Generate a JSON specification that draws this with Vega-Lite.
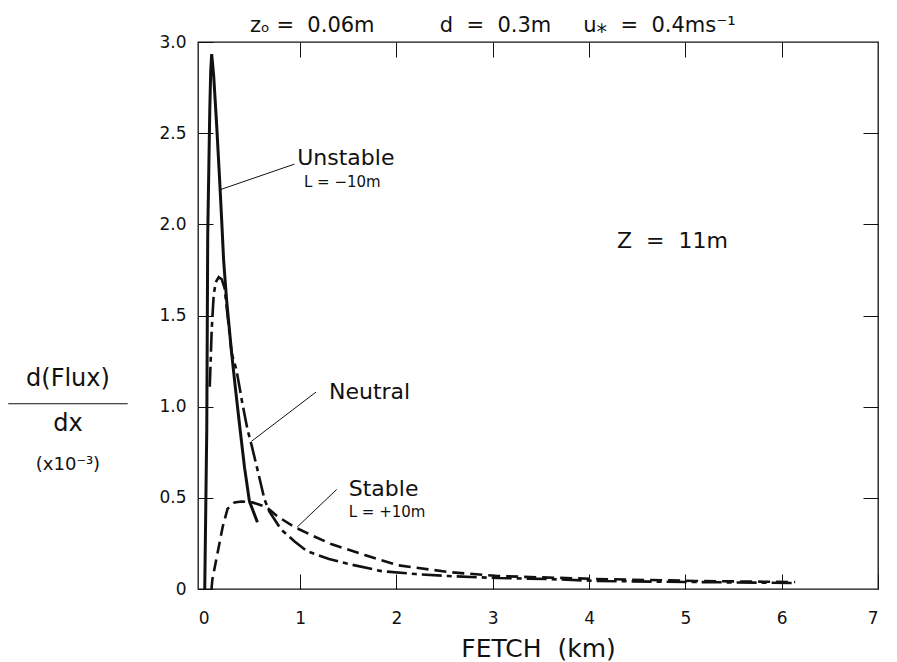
{
  "$schema": "https://vega.github.io/schema/vega-lite/v6.json",
  "width": 680,
  "height": 547,
  "autosize": {"type": "none"},
  "padding": {"left": 198, "top": 42, "right": 19, "bottom": 73},
  "background": "white",
  "config": {
    "view": {"stroke": "#111", "strokeWidth": 1.3},
    "font": "DejaVu Sans",
    "axis": {
      "domain": false,
      "grid": false,
      "tickColor": "#111",
      "tickWidth": 1,
      "labelColor": "#111",
      "labelFont": "DejaVu Sans",
      "labelFontSize": 17,
      "titleFont": "DejaVu Sans",
      "titleColor": "#111",
      "titleFontWeight": "normal"
    }
  },
  "datasets": {
    "curves": [
      {"s": "Unstable", "x": 0.01, "y": 0},
      {"s": "Unstable", "x": 0.031, "y": 0.874},
      {"s": "Unstable", "x": 0.041, "y": 1.94},
      {"s": "Unstable", "x": 0.062, "y": 2.62},
      {"s": "Unstable", "x": 0.072, "y": 2.84},
      {"s": "Unstable", "x": 0.082, "y": 2.934},
      {"s": "Unstable", "x": 0.103, "y": 2.814},
      {"s": "Unstable", "x": 0.134, "y": 2.541},
      {"s": "Unstable", "x": 0.165, "y": 2.24},
      {"s": "Unstable", "x": 0.186, "y": 2.022},
      {"s": "Unstable", "x": 0.206, "y": 1.803},
      {"s": "Unstable", "x": 0.237, "y": 1.585},
      {"s": "Unstable", "x": 0.289, "y": 1.295},
      {"s": "Unstable", "x": 0.33, "y": 1.093},
      {"s": "Unstable", "x": 0.371, "y": 0.902},
      {"s": "Unstable", "x": 0.423, "y": 0.667},
      {"s": "Unstable", "x": 0.474, "y": 0.481},
      {"s": "Unstable", "x": 0.557, "y": 0.366},
      {"s": "Neutral", "x": 0.062, "y": 1.109},
      {"s": "Neutral", "x": 0.072, "y": 1.257},
      {"s": "Neutral", "x": 0.082, "y": 1.421},
      {"s": "Neutral", "x": 0.103, "y": 1.612},
      {"s": "Neutral", "x": 0.124, "y": 1.683},
      {"s": "Neutral", "x": 0.155, "y": 1.71},
      {"s": "Neutral", "x": 0.186, "y": 1.699},
      {"s": "Neutral", "x": 0.216, "y": 1.65},
      {"s": "Neutral", "x": 0.247, "y": 1.5},
      {"s": "Neutral", "x": 0.289, "y": 1.295},
      {"s": "Neutral", "x": 0.34, "y": 1.2},
      {"s": "Neutral", "x": 0.4, "y": 1.02},
      {"s": "Neutral", "x": 0.454, "y": 0.874},
      {"s": "Neutral", "x": 0.495, "y": 0.792},
      {"s": "Neutral", "x": 0.557, "y": 0.656},
      {"s": "Neutral", "x": 0.63, "y": 0.492},
      {"s": "Neutral", "x": 0.68, "y": 0.426},
      {"s": "Neutral", "x": 0.8, "y": 0.328},
      {"s": "Neutral", "x": 0.94, "y": 0.262},
      {"s": "Neutral", "x": 1.07, "y": 0.208},
      {"s": "Neutral", "x": 1.3, "y": 0.164},
      {"s": "Neutral", "x": 1.505, "y": 0.137},
      {"s": "Neutral", "x": 1.845, "y": 0.098},
      {"s": "Neutral", "x": 2.2, "y": 0.082},
      {"s": "Neutral", "x": 2.54, "y": 0.071},
      {"s": "Neutral", "x": 3.05, "y": 0.06},
      {"s": "Neutral", "x": 3.57, "y": 0.055},
      {"s": "Neutral", "x": 4.08, "y": 0.044},
      {"s": "Neutral", "x": 5.11, "y": 0.038},
      {"s": "Neutral", "x": 6.14, "y": 0.033},
      {"s": "Stable", "x": 0.08, "y": 0},
      {"s": "Stable", "x": 0.09, "y": 0.055},
      {"s": "Stable", "x": 0.144, "y": 0.2},
      {"s": "Stable", "x": 0.196, "y": 0.34},
      {"s": "Stable", "x": 0.247, "y": 0.44},
      {"s": "Stable", "x": 0.32, "y": 0.475},
      {"s": "Stable", "x": 0.39, "y": 0.48},
      {"s": "Stable", "x": 0.505, "y": 0.475},
      {"s": "Stable", "x": 0.65, "y": 0.45},
      {"s": "Stable", "x": 0.76, "y": 0.4},
      {"s": "Stable", "x": 0.94, "y": 0.34},
      {"s": "Stable", "x": 1.14, "y": 0.29},
      {"s": "Stable", "x": 1.33, "y": 0.245},
      {"s": "Stable", "x": 1.68, "y": 0.185},
      {"s": "Stable", "x": 2.02, "y": 0.13},
      {"s": "Stable", "x": 2.54, "y": 0.093},
      {"s": "Stable", "x": 3.05, "y": 0.071},
      {"s": "Stable", "x": 4.08, "y": 0.055},
      {"s": "Stable", "x": 5.11, "y": 0.044},
      {"s": "Stable", "x": 6.14, "y": 0.038}
    ],
    "bigLabels": [
      {"x": 0.97, "y": 2.366, "t": "Unstable"},
      {"x": 1.3, "y": 1.082, "t": "Neutral"},
      {"x": 1.505, "y": 0.546, "t": "Stable"},
      {"x": 4.29, "y": 1.91, "t": "Z\u00a0\u00a0=\u00a0\u00a011m"}
    ],
    "smallLabels": [
      {"x": 1.04, "y": 2.23, "t": "L\u00a0=\u00a0−10m"},
      {"x": 1.505, "y": 0.42, "t": "L\u00a0=\u00a0+10m"}
    ],
    "topText": [
      {"x": 0.48, "y": 3.09, "t": "z\u2092\u00a0=\u00a0\u00a00.06m"},
      {"x": 2.45, "y": 3.09, "t": "d\u00a0\u00a0=\u00a0\u00a00.3m"},
      {"x": 3.94, "y": 3.09, "t": "u\u204e\u00a0\u00a0=\u00a0\u00a00.4ms\u207b\u00b9"}
    ],
    "yTitle": [
      {"x": -1.41, "y": 1.15, "t": "d(Flux)"},
      {"x": -1.41, "y": 0.907, "t": "dx"}
    ],
    "yTitleSmall": [
      {"x": -1.41, "y": 0.68, "t": "(x10⁻³)"}
    ],
    "leaders": [
      {"x": 0.94, "y": 2.33, "x2": 0.17, "y2": 2.19},
      {"x": 1.165, "y": 1.08, "x2": 0.495, "y2": 0.81},
      {"x": 1.38, "y": 0.546, "x2": 0.97, "y2": 0.34},
      {"x": -2.03, "y": 1.016, "x2": -0.79, "y2": 1.016}
    ]
  },
  "layer": [
    {
      "data": {"name": "curves"},
      "transform": [{"filter": "datum.s === 'Unstable'"}],
      "mark": {"type": "line", "color": "#111", "strokeWidth": 3},
      "encoding": {
        "x": {"field": "x", "type": "quantitative",
              "scale": {"domain": [-0.06, 7.0], "nice": false, "zero": false},
              "axis": {"orient": "bottom", "values": [0, 1, 2, 3, 4, 5, 6, 7], "format": "d",
                       "tickSize": -15, "labelPadding": 36, "title": "FETCH\u00a0\u00a0(km)",
                       "titleFontSize": 25, "titlePadding": 10}},
        "y": {"field": "y", "type": "quantitative",
              "scale": {"domain": [0, 3], "nice": false},
              "axis": {"orient": "left", "values": [0, 0.5, 1, 1.5, 2, 2.5, 3],
                       "labelExpr": "datum.value === 0 ? '0' : format(datum.value, '.1f')",
                       "tickSize": -15, "labelPadding": 27, "title": null}}
      }
    },
    {
      "data": {"name": "curves"},
      "transform": [{"filter": "datum.s === 'Neutral'"}],
      "mark": {"type": "line", "color": "#111", "strokeWidth": 2.6, "strokeDash": [20, 5, 5, 5]},
      "encoding": {
        "x": {"field": "x", "type": "quantitative",
              "axis": {"orient": "top", "values": [1, 2, 3, 4, 5, 6], "labels": false,
                       "tickSize": -15, "title": null}},
        "y": {"field": "y", "type": "quantitative",
              "axis": {"orient": "right", "values": [0.5, 1, 1.5, 2, 2.5], "labels": false,
                       "tickSize": -15, "title": null}}
      }
    },
    {
      "data": {"name": "curves"},
      "transform": [{"filter": "datum.s === 'Stable'"}],
      "mark": {"type": "line", "color": "#111", "strokeWidth": 2.6, "strokeDash": [12, 6]},
      "encoding": {
        "x": {"field": "x", "type": "quantitative", "axis": null},
        "y": {"field": "y", "type": "quantitative", "axis": null}
      }
    },
    {
      "data": {"name": "leaders"},
      "mark": {"type": "rule", "color": "#111", "strokeWidth": 1},
      "encoding": {
        "x": {"field": "x", "type": "quantitative", "axis": null},
        "y": {"field": "y", "type": "quantitative", "axis": null},
        "x2": {"field": "x2"},
        "y2": {"field": "y2"}
      }
    },
    {
      "data": {"name": "bigLabels"},
      "mark": {"type": "text", "align": "left", "baseline": "middle", "fontSize": 22, "color": "#111"},
      "encoding": {
        "x": {"field": "x", "type": "quantitative", "axis": null},
        "y": {"field": "y", "type": "quantitative", "axis": null},
        "text": {"field": "t"}
      }
    },
    {
      "data": {"name": "smallLabels"},
      "mark": {"type": "text", "align": "left", "baseline": "middle", "fontSize": 15, "color": "#111"},
      "encoding": {
        "x": {"field": "x", "type": "quantitative", "axis": null},
        "y": {"field": "y", "type": "quantitative", "axis": null},
        "text": {"field": "t"}
      }
    },
    {
      "data": {"name": "topText"},
      "mark": {"type": "text", "align": "left", "baseline": "middle", "fontSize": 21, "color": "#111"},
      "encoding": {
        "x": {"field": "x", "type": "quantitative", "axis": null},
        "y": {"field": "y", "type": "quantitative", "axis": null},
        "text": {"field": "t"}
      }
    },
    {
      "data": {"name": "yTitle"},
      "mark": {"type": "text", "align": "center", "baseline": "middle", "fontSize": 24, "color": "#111"},
      "encoding": {
        "x": {"field": "x", "type": "quantitative", "axis": null},
        "y": {"field": "y", "type": "quantitative", "axis": null},
        "text": {"field": "t"}
      }
    },
    {
      "data": {"name": "yTitleSmall"},
      "mark": {"type": "text", "align": "center", "baseline": "middle", "fontSize": 18, "color": "#111"},
      "encoding": {
        "x": {"field": "x", "type": "quantitative", "axis": null},
        "y": {"field": "y", "type": "quantitative", "axis": null},
        "text": {"field": "t"}
      }
    }
  ],
  "resolve": {"axis": {"x": "independent", "y": "independent"}}
}
